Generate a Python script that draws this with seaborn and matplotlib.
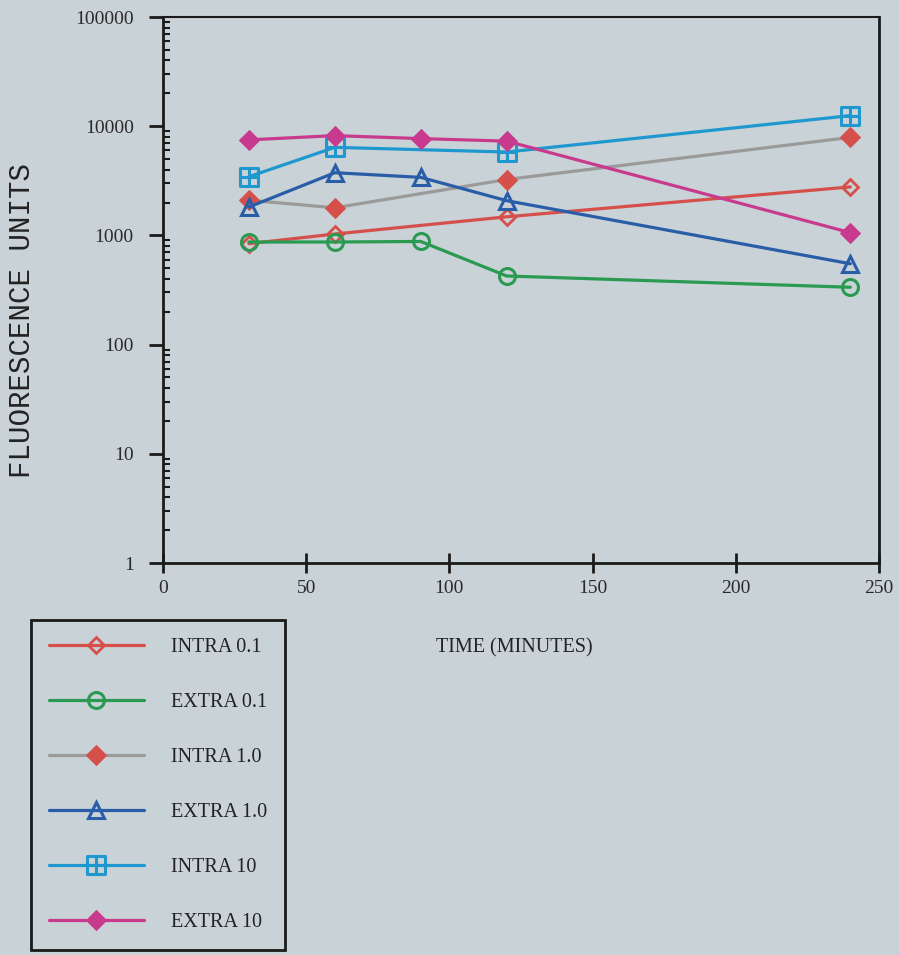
import numpy as np
import pandas as pd
import seaborn as sns
import matplotlib
matplotlib.use("Agg")
import matplotlib.pyplot as plt
from matplotlib.path import Path
from matplotlib.ticker import FixedLocator, LogLocator, NullFormatter, FuncFormatter

# data
labels = ["INTRA 0.1", "EXTRA 0.1", "INTRA 1.0", "EXTRA 1.0", "INTRA 10", "EXTRA 10"]
t_intra_01 = [30, 60, 120, 240]
v_intra_01 = [840, 1030, 1480, 2780]
t_extra_01 = [30, 60, 90, 120, 240]
v_extra_01 = [870, 870, 880, 425, 335]
t_intra_1 = [30, 60, 120, 240]
v_intra_1 = [2100, 1790, 3250, 7900]
t_extra_1 = [30, 60, 90, 120, 240]
v_extra_1 = [1820, 3750, 3400, 2080, 550]
t_intra_10 = [30, 60, 120, 240]
v_intra_10 = [3450, 6400, 5800, 12500]
t_extra_10 = [30, 60, 90, 120, 240]
v_extra_10 = [7500, 8200, 7700, 7300, 1060]

bg = "#c9d2d7"
sns.set_theme(style="ticks")
plt.rcParams["font.family"] = ["Liberation Serif", "DejaVu Serif"]

# square with a cross inside
sq_cross = Path(
    [(-1, -1), (1, -1), (1, 1), (-1, 1), (-1, -1), (-1, 0), (1, 0), (0, -1), (0, 1)],
    [Path.MOVETO, Path.LINETO, Path.LINETO, Path.LINETO, Path.CLOSEPOLY,
     Path.MOVETO, Path.LINETO, Path.MOVETO, Path.LINETO],
)

series = [
    (t_intra_01, v_intra_01, "#d5504a", dict(marker="D", markersize=8, markerfacecolor="none",
                                              markeredgecolor="#d5504a", markeredgewidth=2)),
    (t_extra_01, v_extra_01, "#2a9a52", dict(marker="o", markersize=11.5, markerfacecolor="none",
                                              markeredgecolor="#2a9a52", markeredgewidth=2.2)),
    (t_intra_1, v_intra_1, "#9a9a9a", dict(marker="D", markersize=10.5, markerfacecolor="#d5504a",
                                            markeredgecolor="#d5504a")),
    (t_extra_1, v_extra_1, "#2a5da8", dict(marker="^", markersize=12, markerfacecolor="none",
                                            markeredgecolor="#2a5da8", markeredgewidth=2.2)),
    (t_intra_10, v_intra_10, "#1f98cf", dict(marker=sq_cross, markersize=12.5, markerfacecolor="none",
                                              markeredgecolor="#1f98cf", markeredgewidth=2.2)),
    (t_extra_10, v_extra_10, "#c83a8e", dict(marker="D", markersize=10.5, markerfacecolor="#c83a8e",
                                              markeredgecolor="#c83a8e")),
]

fig = plt.figure(figsize=(8.99, 9.55), dpi=100, facecolor=bg)
ax = fig.add_axes([163 / 899, 1 - 563 / 955, 716 / 899, 546 / 955])
ax.set_facecolor(bg)

for lab, (t, v, col, mk) in zip(labels, series):
    df = pd.DataFrame({"t": t, "v": v})
    sns.lineplot(data=df, x="t", y="v", ax=ax, color=col, linewidth=2.3, label=lab, **mk)

ax.set_yscale("log")
ax.set_xlim(0, 250)
ax.set_ylim(1, 100000)
ax.xaxis.set_major_locator(FixedLocator([0, 50, 100, 150, 200, 250]))
ax.yaxis.set_major_locator(FixedLocator([1, 10, 100, 1000, 10000, 100000]))
ax.yaxis.set_major_formatter(FuncFormatter(lambda y, p: f"{int(round(y))}"))
ax.yaxis.set_minor_locator(LogLocator(base=10, subs=np.arange(2, 10)))
ax.yaxis.set_minor_formatter(NullFormatter())

for s in ax.spines.values():
    s.set_color("#1a1a1a")
    s.set_linewidth(2)
ax.spines["top"].set_linewidth(1.5)

ax.tick_params(axis="y", which="major", direction="out", length=10, width=2,
               labelsize=14, colors="#1a1a1a", pad=11)
ax.tick_params(axis="y", which="minor", direction="in", length=5, width=1.5, colors="#1a1a1a")
ax.tick_params(axis="x", which="major", direction="inout", length=14, width=2,
               labelsize=14, colors="#1a1a1a", pad=5)
for lbl in ax.get_xticklabels() + ax.get_yticklabels():
    lbl.set_color("#2a2a2a")

ax.set_xlabel("")
ax.set_ylabel("")
fig.text(22 / 899, 1 - 321 / 955, "FLUORESCENCE UNITS", rotation=90, ha="center", va="center",
         family=["Liberation Mono", "DejaVu Sans Mono"], fontsize=21, color="#222222")
fig.text(514 / 899, 1 - 648 / 955, "TIME (MINUTES)", ha="center", va="center",
         fontsize=14.5, color="#222222")

leg = ax.legend(loc="upper left", bbox_to_anchor=(31 / 899, 1 - 620 / 955),
                bbox_transform=fig.transFigure, borderaxespad=0, fontsize=14.5,
                handlelength=4.7, handletextpad=1.35, labelspacing=1.78,
                borderpad=0.9, fancybox=False, framealpha=1, facecolor=bg,
                edgecolor="#1a1a1a")
leg.get_frame().set_linewidth(2)
for txt in leg.get_texts():
    txt.set_color("#222222")

fig.savefig("out.png", dpi=100, facecolor=bg)
